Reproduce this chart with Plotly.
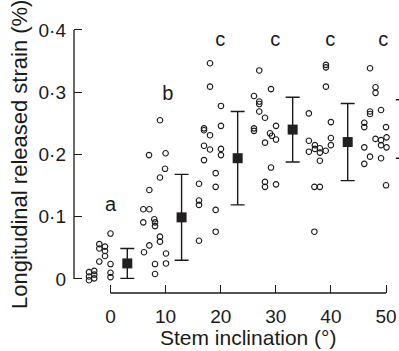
import plotly.graph_objects as go

# ---- raw observations (stem inclination in degrees, released strain in %) ----
g1_x = [0.0, -2.03, -2.03, -1.0, -1.0, -1.0, -2.03, 0.0, 0.0, 0.0, -3.9, -3.9, -3.9, -2.95, -2.95, -2.95]
g1_y = [0.073, 0.056, 0.049, 0.052, 0.045, 0.037, 0.028, 0.024, 0.010, 0.003, 0.011, 0.004, -0.002, 0.013, 0.007, 0.001]

g2_x = [8.98, 6.99, 10.0, 9.9, 8.98, 7.05, 5.95, 7.05, 5.95, 7.95, 8.08, 8.08, 8.98, 8.98, 7.05, 6.08, 10.07, 8.08, 10.07, 8.08]
g2_y = [0.255, 0.199, 0.202, 0.177, 0.163, 0.143, 0.112, 0.112, 0.091, 0.096, 0.091, 0.085, 0.068, 0.060, 0.054, 0.043, 0.041, 0.024, 0.025, 0.008]

g3_x = [18.06, 18.06, 20.05, 16.97, 16.97, 20.05, 18.06, 16.97, 18.06, 20.05, 20.05, 16.97, 19.09, 16.06, 19.09, 16.06, 16.06, 19.09, 19.09, 16.06]
g3_y = [0.3465, 0.309, 0.278, 0.242, 0.239, 0.246, 0.231, 0.214, 0.208, 0.209, 0.199, 0.191, 0.170, 0.153, 0.148, 0.126, 0.119, 0.111, 0.076, 0.0615]

g4_x = [27.0, 29.13, 26.04, 27.0, 27.0, 27.0, 28.04, 26.04, 26.04, 30.04, 28.95, 29.3, 30.04, 28.04, 29.13, 28.04, 28.04, 30.04]
g4_y = [0.335, 0.305, 0.294, 0.285, 0.281, 0.269, 0.259, 0.242, 0.238, 0.246, 0.234, 0.230, 0.224, 0.219, 0.179, 0.156, 0.148, 0.152]

g5_x = [39.1, 39.1, 39.1, 36.0, 40.0, 36.0, 37.1, 36.0, 37.1, 38.0, 38.0, 39.06, 40.0, 40.0, 38.0, 37.0, 38.0, 37.0]
g5_y = [0.344, 0.340, 0.309, 0.266, 0.252, 0.222, 0.215, 0.2045, 0.209, 0.210, 0.203, 0.206, 0.2265, 0.215, 0.190, 0.148, 0.148, 0.076]

g6_x = [47.1, 48.1, 48.1, 49.1, 47.1, 47.1, 46.06, 46.06, 50.0, 48.1, 49.1, 50.1, 49.1, 50.1, 46.06, 47.1, 46.06, 49.1, 50.0]
g6_y = [0.3385, 0.308, 0.299, 0.2715, 0.269, 0.265, 0.251, 0.244, 0.244, 0.225, 0.223, 0.2275, 0.215, 0.2115, 0.2115, 0.1965, 0.185, 0.194, 0.1505]

# ---- group means and error bars ----
mean_x = [3.05, 12.9, 23.08, 33.06, 43.05, 53.05]
mean_y = [0.025, 0.099, 0.194, 0.240, 0.220, 0.241]
mean_err = [0.024, 0.069, 0.075, 0.052, 0.062, 0.047]

# ---- significance letters ----
letter_text = ["a", "b", "c", "c", "c", "c"]
letter_x = [0.0, 10.4, 19.9, 29.9, 39.9, 49.5]
letter_y = [0.117, 0.2956, 0.383, 0.383, 0.383, 0.383]

# ---- ticks ----
x_ticks = [0, 10, 20, 30, 40, 50]
x_ticktext = ["0", "10", "20", "30", "40", "50"]
y_ticks = [0, 0.1, 0.2, 0.3, 0.4]
y_ticktext = ["0", "0·1", "0·2", "0·3", "0·4"]

INK = "#1a1a1a"
FONT = "Liberation Sans, Arial, sans-serif"

raw_x = g1_x + g2_x + g3_x + g4_x + g5_x + g6_x
raw_y = g1_y + g2_y + g3_y + g4_y + g5_y + g6_y

fig = go.Figure()
fig.add_trace(go.Scatter(
    x=raw_x, y=raw_y, mode="markers",
    marker=dict(symbol="circle-open", size=5.5, color=INK, line=dict(width=1.1, color=INK)),
    showlegend=False, hoverinfo="skip"))
fig.add_trace(go.Scatter(
    x=mean_x, y=mean_y, mode="markers",
    marker=dict(symbol="square", size=10, color="#231f20"),
    error_y=dict(type="data", array=mean_err, visible=True, color=INK, thickness=1.4, width=7),
    showlegend=False, hoverinfo="skip"))
fig.add_trace(go.Scatter(
    x=letter_x, y=letter_y, mode="text", text=letter_text,
    textposition="middle center", textfont=dict(family=FONT, size=20, color=INK),
    showlegend=False, hoverinfo="skip", cliponaxis=False))

fig.update_layout(
    width=399, height=351,
    margin=dict(l=74, r=0, t=10, b=58),
    paper_bgcolor="white", plot_bgcolor="white",
    font=dict(family=FONT, size=19, color=INK),
    xaxis=dict(range=[-6.624, 52.36], showgrid=False, zeroline=False, showline=False,
               ticks="inside", ticklen=8, tickwidth=1.3, tickcolor=INK,
               tickvals=x_ticks, ticktext=x_ticktext, ticklabelstandoff=10,
               tickfont=dict(family=FONT, size=19, color=INK)),
    yaxis=dict(range=[-0.0225, 0.4321], showgrid=False, zeroline=False, showline=False,
               ticks="inside", ticklen=8, tickwidth=1.3, tickcolor=INK,
               tickvals=y_ticks, ticktext=y_ticktext, ticklabelstandoff=7,
               tickfont=dict(family=FONT, size=19, color=INK)),
    shapes=[
        dict(type="line", xref="x", yref="paper", x0=0, x1=50, y0=0, y1=0,
             line=dict(color=INK, width=1.3)),
        dict(type="line", xref="paper", yref="y", x0=0, x1=0, y0=0, y1=0.4,
             line=dict(color=INK, width=1.3)),
    ],
    annotations=[
        dict(text="Stem inclination (°)", xref="x", yref="paper", x=25, y=-0.159,
             xanchor="center", yanchor="middle", showarrow=False,
             font=dict(family=FONT, size=21, color=INK)),
        dict(text="Longitudinal released strain (%)", xref="paper", yref="paper",
             x=-0.166, y=0.488, textangle=-90, xanchor="center", yanchor="middle",
             showarrow=False, font=dict(family=FONT, size=22, color=INK)),
    ],
)

fig.write_html("out.html", config={"displayModeBar": False},
               post_script="document.body.style.margin='0';")
